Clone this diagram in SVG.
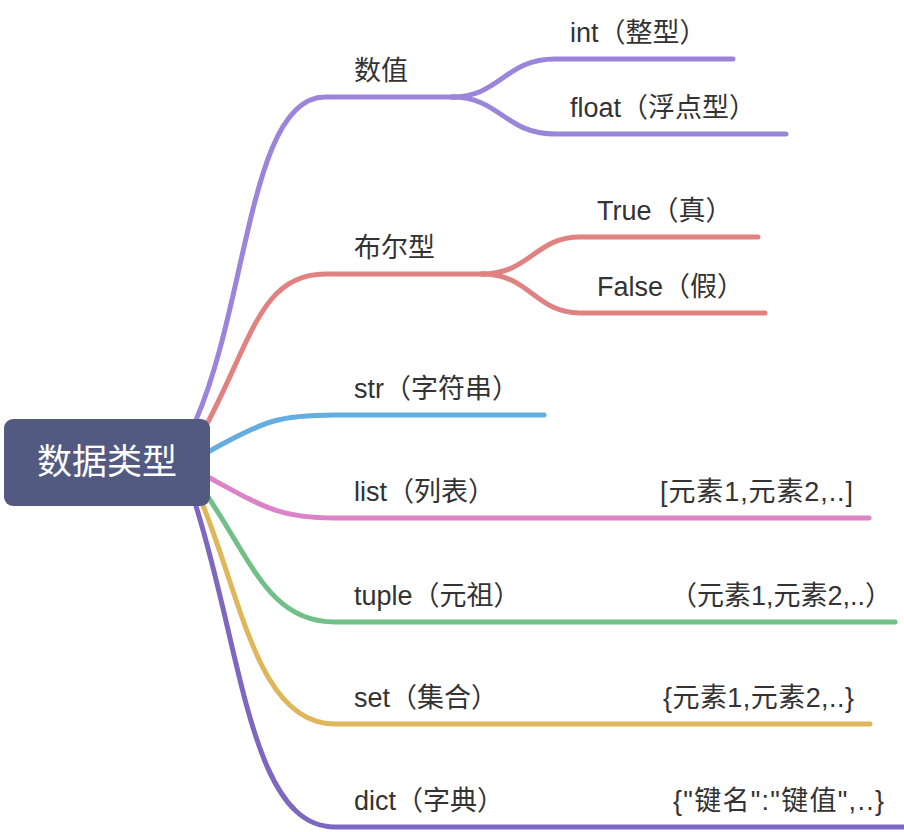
<svg xmlns="http://www.w3.org/2000/svg" width="904" height="832" viewBox="0 0 904 832">
<style>
.ln{fill:none;stroke-width:5;stroke-linecap:round}
.t{font-family:"Liberation Sans","Noto Sans CJK SC",sans-serif;font-size:27px;fill:#333333}
.root{font-family:"Noto Sans CJK SC","Liberation Sans",sans-serif;font-size:35px;fill:#ffffff}
</style>
<rect width="904" height="832" fill="#ffffff"/>
<g id="connectors">
<path class="ln" stroke="#9b85db" d="M196,420 C248,300 250,97 325,97 L455,97"/>
<path class="ln" stroke="#9b85db" d="M452,97 C500,97 505,59 555,59 L733,59"/>
<path class="ln" stroke="#9b85db" d="M452,97 C500,97 505,134 555,134 L786,134"/>
<path class="ln" stroke="#e08282" d="M208,422 C252,338 262,274 325,274 L485,274"/>
<path class="ln" stroke="#e08282" d="M482,274 C530,274 535,237 580,237 L758,237"/>
<path class="ln" stroke="#e08282" d="M482,274 C530,274 535,313 580,313 L765,313"/>
<path class="ln" stroke="#63ade0" d="M208,452 C265,420 280,415 335,415 L544,415"/>
<path class="ln" stroke="#dc82c6" d="M208,477 C265,508 280,518 335,518 L869,518"/>
<path class="ln" stroke="#72c087" d="M208,497 C252,562 270,622 335,622 L895,622"/>
<path class="ln" stroke="#dfb75a" d="M202,503 C242,600 258,724 335,724 L870,724"/>
<path class="ln" stroke="#7e67c0" d="M195,503 C242,650 250,827 335,827 L904,827"/>
</g>
<g id="root">
<rect x="4" y="419" width="206" height="87" rx="9" fill="#525a82"/>
<text class="root" x="107" y="474" text-anchor="middle">数据类型</text>
</g>
<g id="n-shuzhi"><text class="t" x="354" y="80">数值</text></g>
<g id="n-int"><text class="t" x="570" y="42">int（整型）</text></g>
<g id="n-float"><text class="t" x="570" y="117">float（浮点型）</text></g>
<g id="n-bool"><text class="t" x="354" y="257">布尔型</text></g>
<g id="n-true"><text class="t" x="597" y="220">True（真）</text></g>
<g id="n-false"><text class="t" x="597" y="296">False（假）</text></g>
<g id="n-str"><text class="t" x="354" y="398">str（字符串）</text></g>
<g id="n-list"><text class="t" x="354" y="501">list（列表）</text><text class="t" x="660" y="501" textLength="193" lengthAdjust="spacing">[元素1,元素2,..]</text></g>
<g id="n-tuple"><text class="t" x="670" y="605">（元素1,元素2,..）</text></g>
<g id="n-tuple-label"><text class="t" x="354" y="605">tuple（元祖）</text></g>
<g id="n-set"><text class="t" x="354" y="707">set（集合）</text><text class="t" x="663" y="707" textLength="191" lengthAdjust="spacing">{元素1,元素2,..}</text></g>
<g id="n-dict"><text class="t" x="354" y="810">dict（字典）</text><text class="t" x="673" y="810" textLength="211" lengthAdjust="spacing">{"键名":"键值",..}</text></g>
</svg>
